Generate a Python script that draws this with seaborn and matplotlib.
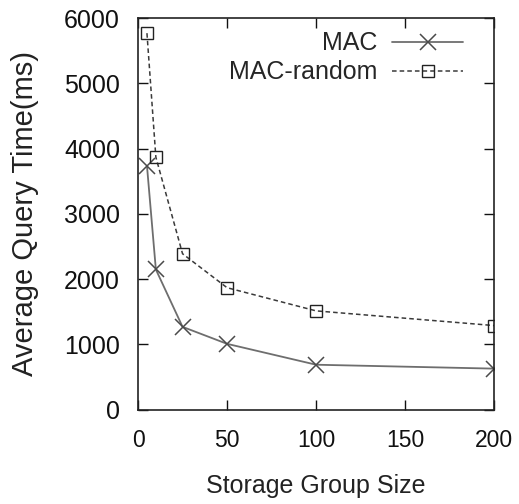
import matplotlib
matplotlib.use("Agg")
import matplotlib.pyplot as plt
import seaborn as sns
import pandas as pd

# Measured query times per storage group size
group_sizes = [5, 10, 25, 50, 100, 200]
mac_times = [3740, 2150, 1270, 1010, 690, 630]
mac_random_times = [5770, 3870, 2390, 1870, 1515, 1290]
series_names = ["MAC", "MAC-random"]
x_ticks = [0, 50, 100, 150, 200]
y_ticks = [0, 1000, 2000, 3000, 4000, 5000, 6000]

mac_df = pd.DataFrame({"size": group_sizes, "time": mac_times})
rnd_df = pd.DataFrame({"size": group_sizes, "time": mac_random_times})

sns.set_style("ticks")
plt.rcParams["font.family"] = ["Liberation Sans", "DejaVu Sans"]

fig = plt.figure(figsize=(5.19, 5.04), dpi=100)
ax = fig.add_axes([0.266, 0.187, 0.686, 0.777])

sns.lineplot(data=mac_df, x="size", y="time", ax=ax, color="#6e6e6e",
             linewidth=1.3, marker="x", markersize=11, markeredgewidth=1.1,
             markeredgecolor="#4a4a4a", label=series_names[0])
sns.lineplot(data=rnd_df, x="size", y="time", ax=ax, color="#3a3a3a",
             linewidth=1.1, linestyle=(0, (3, 2)), marker="s", markersize=9,
             markerfacecolor="none", markeredgecolor="#222222",
             markeredgewidth=1.0, label=series_names[1])

ax.set_xlim(0, 200)
ax.set_ylim(0, 6000)
ax.set_xticks(x_ticks)
ax.set_yticks(y_ticks)
ax.tick_params(direction="in", length=7, width=1, top=True, right=True,
               colors="#111111")
ax.tick_params(axis="y", labelsize=18, pad=13)
ax.tick_params(axis="x", labelsize=16.5, pad=13.5)
for side in ["top", "right", "left", "bottom"]:
    ax.spines[side].set_visible(True)
    ax.spines[side].set_linewidth(1.2)
    ax.spines[side].set_color("#222222")

ax.set_xlabel("Storage Group Size", fontsize=18, labelpad=16.5, color="#222222")
ax.set_ylabel("Average Query Time(ms)", fontsize=21, labelpad=18, color="#222222")

ax.legend(loc="upper right", bbox_to_anchor=(0.913, 0.966), frameon=False,
          markerfirst=False, fontsize=18, handlelength=2.84, handletextpad=0.6,
          labelspacing=0.2, borderaxespad=0.0, borderpad=0.0)

fig.savefig("out.png", dpi=100)
